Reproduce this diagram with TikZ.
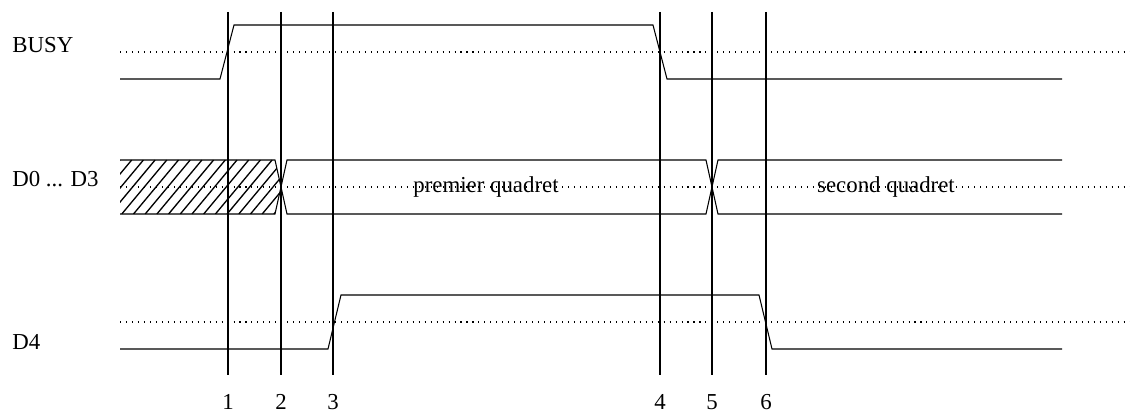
\documentclass[tikz,border=0pt]{standalone}
\usepackage{fontspec}
\setmainfont{Liberation Serif}
\usetikzlibrary{positioning,calc}

\begin{document}
\begin{tikzpicture}[
    x=0.02cm, y=-0.02cm,
    wave/.style={line width=0.6pt, line join=miter},
    level/.style={line width=0.6pt, dash pattern=on 0.6pt off 2.8pt},
    marker/.style={line width=0.6pt},
    hatch/.style={line width=0.75pt},
    signame/.style={font=\fontsize{13}{15}\selectfont, anchor=base west, inner sep=0pt},
    quadlabel/.style={font=\fontsize{13}{15}\selectfont, anchor=base, inner sep=0pt},
    ticklabel/.style={font=\fontsize{13}{15}\selectfont, anchor=base, inner sep=0pt}
]
\useasboundingbox (0,0) rectangle (1130,412);

% Signal names
\node[signame] (busy) at (12,53) {BUSY};
\node[signame] (data) at (12,187) {D0 ... D3};
\node[signame] (dfour) at (12,349) {D4};

% Reference levels
\draw[level] (120,52) -- (1130,52);
\draw[level] (120,187) -- (1130,187);
\draw[level] (120,322) -- (1130,322);

% Time markers
\foreach \t/\x in {1/228,2/281,3/333,4/660,5/712,6/766} {
  \draw[marker] (\x,12) coordinate (top\t) -- (\x,375) coordinate (bot\t);
  \node[ticklabel] (num\t) at (\x,409) {\t};
}

% BUSY
\draw[wave] (120,79) -- (220,79) -- (234,25) -- (653,25) -- (667,79) -- (1062,79);

% D0 ... D3, undefined part
\begin{scope}
  \clip (120,160) -- (275,160) -- (281,187) -- (275,214) -- (120,214) -- cycle;
  \foreach \h in {0,...,17}
    \draw[hatch] (75+\h*11.7,214) -- ++(45,-54);
\end{scope}
\draw[wave] (120,160) -- (275,160) -- (281,187) -- (275,214) -- (120,214);

% D0 ... D3, the two quadrets
\draw[wave] (281,187) -- (287,160) -- (706,160) -- (718,214) -- (1062,214);
\draw[wave] (281,187) -- (287,214) -- (706,214) -- (718,160) -- (1062,160);
\node[quadlabel] (first) at (486,193) {premier quadret};
\node[quadlabel] (second) at (886,193) {second quadret};

% D4
\draw[wave] (120,349) -- (328,349) -- (341,295) -- (759,295) -- (772,349) -- (1062,349);

\end{tikzpicture}
\end{document}
